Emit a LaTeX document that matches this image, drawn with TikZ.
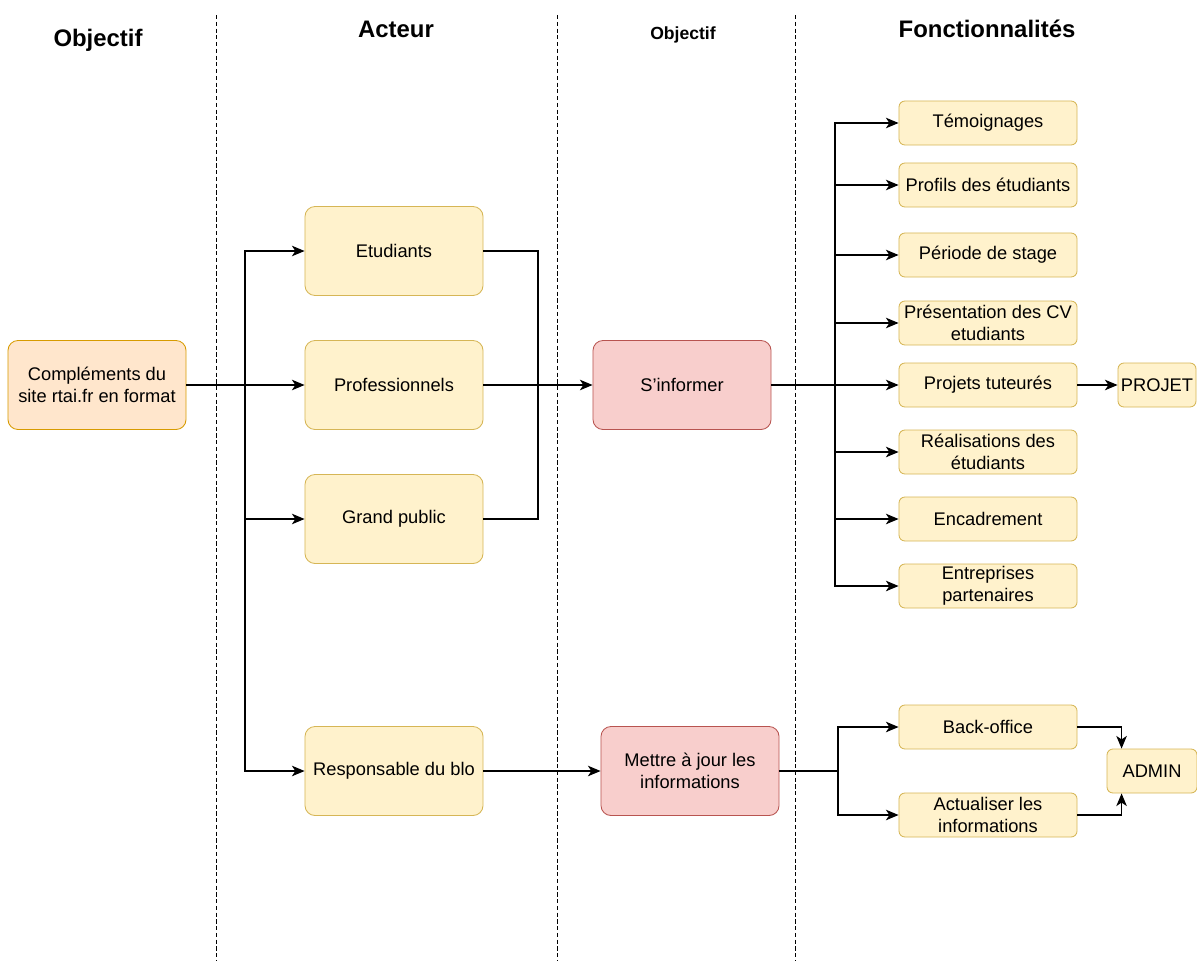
\documentclass[tikz,border=0pt]{standalone}
\usepackage{fontspec}
\setmainfont{Liberation Sans}
\usetikzlibrary{positioning,arrows.meta}
\usepackage{xcolor}
\definecolor{actfill}{HTML}{FFF2CC}
\definecolor{actdraw}{HTML}{D6B656}
\definecolor{objfill}{HTML}{FFE6CC}
\definecolor{objdraw}{HTML}{D79B00}
\definecolor{goalfill}{HTML}{F8CECC}
\definecolor{goaldraw}{HTML}{B85450}

\begin{document}
\begin{tikzpicture}[x=0.025cm, y=-0.025cm, font=\fontsize{13}{15.5}\selectfont,
    bigbox/.style={rectangle, draw=actdraw, fill=actfill, rounded corners=0.25cm, minimum width=4.45cm, minimum height=2.225cm, align=center, inner sep=1pt, line width=0.6pt},
    featbox/.style={rectangle, draw=actdraw, fill=actfill, rounded corners=0.15cm, minimum width=4.45cm, minimum height=1.1cm, align=center, inner sep=1pt, line width=0.6pt},
    header/.style={font=\fontsize{17}{20}\selectfont\bfseries},
    link/.style={line width=0.8pt, -{Stealth[length=9pt, width=7.5pt, inset=2.5pt]}},
    wire/.style={line width=0.8pt},
    lane/.style={line width=0.7pt, dash pattern=on 3pt off 1.8pt}]
    \useasboundingbox (0,0) rectangle (1197,961);

    % lanes
    \draw[lane] (216,15) -- (216,961);
    \draw[lane] (557,15) -- (557,961);
    \draw[lane] (795,15) -- (795,961);

    \node[header] (hobj) at (98,40) {Objectif};
    \node[header] (hact) at (396,29) {Acteur};
    \node[font=\fontsize{12.5}{15}\selectfont\bfseries] (hgoal) at (683,35) {Objectif};
    \node[header] (hfct) at (987,29) {Fonctionnalités};

    \node[bigbox, draw=objdraw, fill=objfill] (compl) at (97,385) {Compléments du\\site rtai.fr en format};

    \node[bigbox] (etud) at (394,251) {Etudiants};
    \node[bigbox] (pro) at (394,385) {Professionnels};
    \node[bigbox] (grand) at (394,519) {Grand public};
    \node[bigbox] (resp) at (394,771) {Responsable du blo};

    \node[bigbox, draw=goaldraw, fill=goalfill] (info) at (682,385) {S'informer};
    \node[bigbox, draw=goaldraw, fill=goalfill] (maj) at (690,771) {Mettre à jour les\\informations};

    \node[featbox] (temo) at (988,123) {Témoignages};
    \node[featbox] (profil) at (988,185) {Profils des étudiants};
    \node[featbox] (stage) at (988,255) {Période de stage};
    \node[featbox] (cv) at (988,323) {Présentation des CV\\etudiants};
    \node[featbox] (projt) at (988,385) {Projets tuteurés};
    \node[featbox] (real) at (988,452) {Réalisations des\\étudiants};
    \node[featbox] (encad) at (988,519) {Encadrement};
    \node[featbox] (entr) at (988,586) {Entreprises\\partenaires};
    \node[featbox, minimum width=1.95cm] (projet) at (1157,385) {PROJET};

    \node[featbox] (back) at (988,727) {Back-office};
    \node[featbox] (actu) at (988,815) {Actualiser les\\informations};
    \node[featbox, minimum width=2.25cm] (admin) at (1152,771) {ADMIN};

    % acteurs
    \coordinate (split) at (245,385);
    \draw[link] (compl) -- (pro);
    \draw[link] (split) |- (etud.west);
    \draw[link] (split) |- (grand.west);
    \draw[link] (split) |- (resp.west);

    \coordinate (merge) at (538,385);
    \draw[wire] (etud.east) -| (merge) |- (grand.east);
    \draw[link] (pro) -- (info);

    % fonctionnalites
    \coordinate (fan) at (835,385);
    \draw[wire] (info) -- (fan);
    \draw[link] (fan) |- (temo.west);
    \draw[link] (fan) |- (profil.west);
    \draw[link] (fan) |- (stage.west);
    \draw[link] (fan) |- (cv.west);
    \draw[link] (fan) -- (projt.west);
    \draw[link] (fan) |- (real.west);
    \draw[link] (fan) |- (encad.west);
    \draw[link] (fan) |- (entr.west);
    \draw[link] (projt) -- (projet);

    % mise a jour
    \draw[link] (resp) -- (maj);
    \coordinate (fan2) at (838,771);
    \draw[wire] (maj) -- (fan2);
    \draw[link] (fan2) |- (back.west);
    \draw[link] (fan2) |- (actu.west);
    \draw[link] (back.east) -| ([xshift=0.375cm]admin.north west);
    \draw[link] (actu.east) -| ([xshift=0.375cm]admin.south west);
\end{tikzpicture}
\end{document}
